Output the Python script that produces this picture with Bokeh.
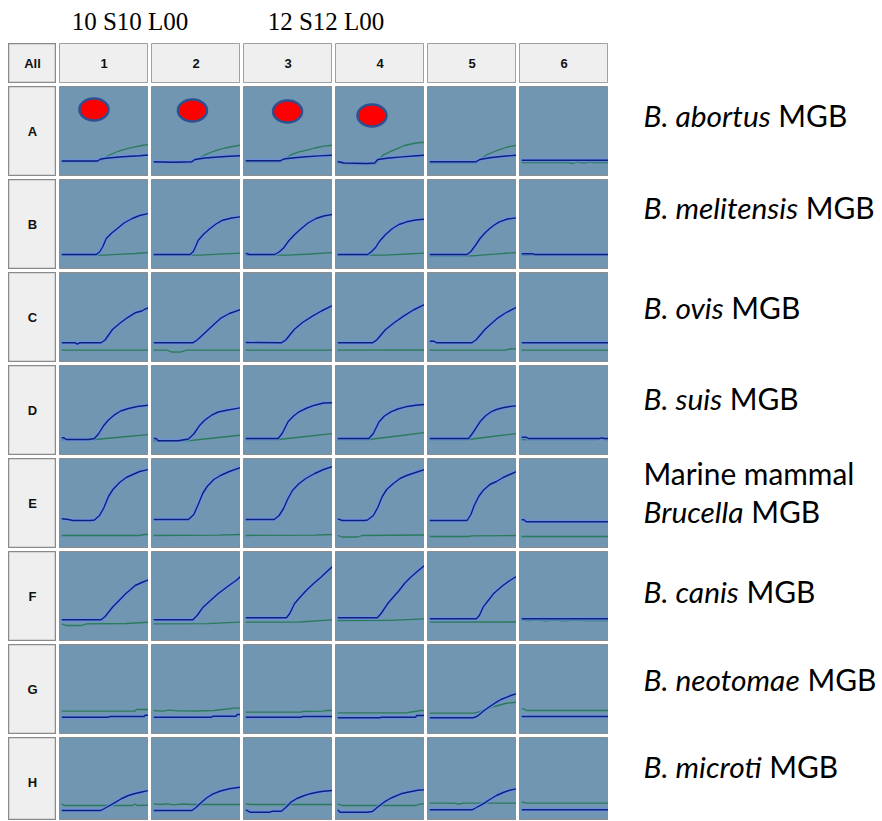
import os
import subprocess

from bokeh.plotting import figure
from bokeh.models import GridPlot, Range1d, ColumnDataSource
from bokeh.core.properties import value
from bokeh.embed import file_html
from bokeh.resources import INLINE

# ---------------------------------------------------------------- data
PLATE_ROWS = ["A", "B", "C", "D", "E", "F", "G", "H"]
PLATE_COLS = ["1", "2", "3", "4", "5", "6"]
CORNER_LABEL = "All"
RUN_LABELS = ["10 S10 L00", "12 S12 L00"]

SPECIES_PREFIX = ["", "", "", "", "Marine mammal", "", "", ""]
SPECIES_ITALIC = ["B. abortus", "B. melitensis", "B. ovis", "B. suis",
                  "Brucella", "B. canis", "B. neotomae", "B. microti"]
SPECIES_SUFFIX = "MGB"

# amplification curves: (cycle, fluorescence) per well, columns 1..6
BLUE_A = [
    [(1, 15.5), (17, 15.5), (18.5, 17.5), (22, 18.5), (27, 19.5), (32, 20.3), (36, 20.8), (40, 21.5)],
    [(1, 14.7), (10, 14.3), (18, 14.7), (19.5, 17), (24, 18.5), (30, 19.5), (35, 20.2), (40, 20.7)],
    [(1, 15.7), (16.4, 15.7), (18, 17.5), (23, 18.8), (28, 19.8), (34, 20.6), (40, 21.3)],
    [(1, 15), (4, 13.5), (14, 13), (17.6, 13.5), (19, 17), (24, 18.5), (30, 19.6), (35, 20.5), (40, 21.3)],
    [(1, 14.7), (21.7, 14.7), (23.5, 17), (28, 18.7), (33, 20), (40, 21.3)],
    [(1, 16.3), (40, 16.3)],
]
GREEN_A = [
    [(1, 14.7), (17, 14.7), (19, 16.5), (22, 21), (25, 24), (28, 26.3), (31, 28.2), (34, 29.7), (37, 31), (40, 32)],
    [(1, 14), (18, 14), (20, 16.5), (23.6, 21.3), (26.5, 24), (29.6, 26.3), (33, 28.5), (36.5, 30), (40, 31.3)],
    [(1, 14.7), (16.4, 14.7), (18.5, 17), (21, 21.3), (24.5, 24.3), (28.6, 26.3), (32, 28.5), (36, 30.3), (40, 31.3)],
    [(1, 14), (4, 12.5), (14, 12.3), (17.6, 12.5), (19.5, 16.5), (21.4, 21.3), (24.5, 24.8), (27.5, 27.7), (31, 31), (35, 33), (38, 34), (40, 34)],
    [(1, 13.7), (21.7, 13.7), (23.8, 17), (26.2, 21.3), (29, 24), (32, 26.7), (36, 29.5), (40, 31.3)],
    [(1, 14), (22, 14), (24, 13), (26, 14.5), (29, 13.3), (31, 14.3), (34, 14), (40, 14)],
]
BLUE_B = [
    [(1, 15), (16.5, 15), (18, 17.5), (19.5, 23), (21, 31), (23.5, 36.5), (26, 41), (29, 46.5), (32.7, 51), (36, 54), (40, 56)],
    [(1, 15), (17.3, 15), (18.8, 18), (20, 24), (21, 29.3), (23.5, 35.5), (26.3, 41), (29, 45.5), (32, 49.3), (36, 51.5), (40, 52.7)],
    [(1, 16.3), (2.5, 15), (14, 15), (16, 17.5), (18, 21.5), (20, 27.7), (23, 35), (26, 41), (29, 46.5), (32.6, 51), (36, 53.5), (40, 55)],
    [(1, 15), (14.4, 15), (16, 17.5), (18, 22), (19.6, 27.7), (22.5, 35), (25.6, 41), (28.5, 45), (32, 47.7), (36, 49.5), (40, 50.3)],
    [(1, 15), (17.8, 15), (19.5, 18), (21.5, 24), (23.6, 31), (26, 37), (28, 41), (30, 44.5), (32.3, 47.7), (36, 50.5), (40, 51.7)],
    [(1, 15.7), (6, 15.7), (7, 15), (40, 15)],
]
GREEN_B = [
    [(1, 14.3), (20, 14.3), (28, 15.3), (34, 16), (40, 17)],
    [(1, 14.3), (22, 14.3), (30, 15.3), (40, 16.5)],
    [(1, 14.3), (20, 14.3), (30, 15.5), (40, 17)],
    [(1, 14.3), (22, 14.3), (32, 15.5), (40, 16.5)],
    [(1, 13.7), (20, 13.7), (30, 15.3), (40, 17)],
    [(1, 14.3), (40, 14.3)],
]
BLUE_C = [
    [(1, 19.7), (7, 19.7), (8, 18.3), (9, 19.7), (18.7, 19.7), (20.5, 22.5), (23.8, 33), (27, 39), (30.4, 44.7), (34, 49.7), (37, 51.5), (38.5, 53.5), (40, 54.7)],
    [(1, 19.7), (18.6, 19.7), (20.5, 22.5), (22.5, 26.5), (25.6, 33), (28.5, 39), (31.4, 44.7), (35, 49), (40, 53)],
    [(1, 20), (17, 19.7), (19, 22.5), (22.8, 33), (26.5, 40), (31, 46.3), (35, 51.5), (40, 57)],
    [(1, 19.7), (16.6, 19.7), (18.5, 22.5), (22.5, 33), (26.5, 40), (30.6, 46.3), (35, 52.5), (40, 58)],
    [(1, 21.3), (3, 21.3), (4, 19.7), (20, 19.7), (22, 23), (25.8, 33), (29, 39.5), (31.7, 44.7), (35, 49.5), (40, 55.3)],
    [(1, 19.7), (40, 19.7)],
]
GREEN_C = [
    [(1, 12.3), (40, 12.3)],
    [(1, 12.3), (7, 12.3), (9, 10.5), (13, 10.3), (15, 11.8), (16, 12.3), (40, 12.3)],
    [(1, 12.3), (40, 12.3)],
    [(1, 12.3), (40, 12.5)],
    [(1, 12.3), (35, 12.3), (37, 13.5), (40, 13.7)],
    [(1, 12.3), (40, 12.3)],
]
BLUE_D = [
    [(1, 17.7), (2, 17.7), (3, 16), (13, 16), (15.7, 17), (17.5, 21.5), (20, 30.3), (22, 35.5), (24.5, 40.3), (27.5, 44.5), (31, 47), (35, 49), (40, 50.3)],
    [(1, 17), (2, 17), (3, 14.7), (12, 14.7), (16.6, 16.5), (19, 21.5), (21.7, 30.3), (24, 35.5), (27, 40.3), (30, 43.5), (33.8, 45.3), (40, 47.7)],
    [(1, 17), (15.6, 17), (17.5, 22.5), (20, 33.7), (22.5, 39.5), (25, 43.7), (28.5, 47.5), (32, 50.3), (36, 52.5), (40, 52.7)],
    [(1, 17), (15, 17), (17, 22), (19.6, 33.7), (22, 39.5), (24.9, 43.7), (28, 46.5), (31.5, 48.7), (36, 50.3), (40, 51)],
    [(1, 17), (18.5, 17), (20.5, 23), (23.6, 33.7), (26, 39.5), (28.6, 43.7), (31, 46), (33.9, 47.7), (37, 49), (40, 49.7)],
    [(1, 18.3), (3, 18.3), (4, 17), (36, 17), (37, 17.7), (38, 17), (40, 17)],
]
GREEN_D = [
    [(1, 16), (16, 16), (28, 18.5), (40, 21)],
    [(1, 14.7), (16, 14.7), (28, 17.5), (40, 20.3)],
    [(1, 16), (15.6, 16), (28, 19), (40, 22)],
    [(1, 16), (15, 16), (28, 19.5), (40, 23)],
    [(1, 16), (18.5, 16), (29, 19), (40, 22)],
    [(1, 16), (35, 16), (36.5, 17), (38, 16), (40, 16)],
]
BLUE_E = [
    [(1, 29.7), (4, 29), (6, 28), (14, 28), (15.7, 28.5), (18, 33), (20, 41), (22, 52), (24, 59), (27, 66), (30, 71), (33, 74), (36, 77), (40, 79)],
    [(1, 29), (16.6, 29), (19, 34), (21, 44), (23, 55), (25, 62), (28, 69), (31, 73), (35, 77), (40, 81)],
    [(1, 29), (13.8, 29), (16, 33), (18, 40), (20, 50), (22, 58), (25, 65), (28, 70), (32, 75), (36, 79), (40, 82)],
    [(1, 29.7), (3, 28), (13, 28), (14.4, 28.5), (17, 33), (19, 41), (21, 52), (23, 59), (26, 65), (29, 70), (32, 73), (36, 76), (40, 79)],
    [(1, 28), (17.8, 28), (19.5, 34), (21, 43), (23, 52), (25, 58), (28, 64), (31, 67), (34, 71), (37, 74), (40, 77)],
    [(1, 28.7), (2, 28.7), (3, 26.7), (40, 26.7)],
]
GREEN_E = [
    [(1, 13), (36, 13), (38, 14), (40, 14)],
    [(1, 13), (30, 13.3), (40, 14)],
    [(1, 13), (32, 13.3), (40, 14)],
    [(1, 13), (3, 11.5), (10, 11.5), (12, 13), (40, 13.5)],
    [(1, 12), (18, 12), (20, 12.7), (40, 13)],
    [(1, 12), (40, 12)],
]
BLUE_F = [
    [(1, 21.7), (18.7, 21.7), (20.5, 25), (23.8, 34.3), (27, 41.5), (29.7, 47.7), (32, 52), (34, 56), (37, 59), (40, 61.7)],
    [(1, 21.7), (18.6, 21.7), (20.5, 26), (23.2, 34.3), (26.5, 41), (29.9, 47.7), (33, 53), (35.9, 57.7), (38, 61), (40, 65)],
    [(1, 23.7), (19.3, 23.7), (20.8, 28), (22.9, 37.7), (25.5, 44.5), (28.2, 51), (31.5, 58), (34.8, 64.3), (37.5, 70), (40, 75)],
    [(1, 23.7), (18.8, 23.7), (20.5, 28), (23.4, 37.7), (26, 44.5), (28.6, 51), (31, 58), (33.8, 64.3), (37, 70.5), (40, 76)],
    [(1, 22.7), (22, 22.7), (23.3, 26), (25, 34.3), (27.3, 41), (29.6, 47.7), (31.8, 52), (33.9, 56), (37, 61), (40, 65)],
    [(1, 22.7), (40, 22.7)],
]
GREEN_F = [
    [(1, 17.7), (3, 16), (10, 16), (12, 17.7), (30, 18), (40, 19.3)],
    [(1, 17.7), (25, 17.8), (40, 19.3)],
    [(1, 19.3), (25, 19.5), (40, 21.7)],
    [(1, 21), (25, 21.2), (40, 22.7)],
    [(1, 19.3), (40, 19.5)],
    [(1, 21.7), (4, 21), (8, 21.7), (12, 20.7), (16, 21.3), (20, 20.7), (25, 21.3), (30, 21), (40, 21)],
]
BLUE_G = [
    [(1, 17.3), (22, 17.3), (22.5, 18), (38, 18), (38.5, 19.3), (40, 19.3)],
    [(1, 17.3), (27, 17.3), (27.5, 18.3), (38, 18.3), (38.5, 20), (40, 20)],
    [(1, 17.3), (26, 17.3), (26.5, 18), (40, 18)],
    [(1, 16.7), (20, 16.7), (20.5, 17.3), (36, 17.3), (36.5, 19), (40, 19)],
    [(1, 16.7), (20.5, 16.7), (22.5, 18.5), (25.5, 24), (28, 28), (31, 32.3), (33, 35), (35.7, 37.3), (38, 39.5), (40, 40.7)],
    [(1, 18), (40, 18)],
]
GREEN_G = [
    [(1, 23.3), (34, 23.3), (34.5, 25), (40, 25)],
    [(1, 24), (5, 23.3), (8, 24.3), (12, 23.7), (20, 23.5), (28, 24), (34, 25.5), (37, 26.3), (40, 26.3)],
    [(1, 22.3), (26, 22.3), (26.5, 23), (36, 23.3), (37, 24), (40, 24)],
    [(1, 21.7), (32, 21.7), (34, 22.5), (37, 23.5), (38, 24), (40, 24)],
    [(1, 21.3), (21, 21.3), (23, 22.5), (25, 24.5), (30, 28), (35, 31), (40, 32.3)],
    [(1, 25.7), (2, 25.7), (3, 24), (40, 24)],
]
BLUE_H = [
    [(1, 17), (18.6, 17), (21, 20), (25.3, 25.3), (28, 29), (31, 32), (34, 34), (37, 35.5), (40, 37)],
    [(1, 17), (18.2, 17), (20, 20), (22.5, 25.3), (25, 30), (27.7, 33.7), (31, 36.5), (35, 38.8), (40, 40.3)],
    [(1, 17.7), (3, 15.3), (12, 15.3), (13, 16.3), (17, 16.3), (19, 20), (21.3, 25.3), (24, 29), (27.4, 32), (30, 33.8), (33, 35.3), (36, 36.3), (40, 37)],
    [(1, 17.7), (2, 15.3), (14, 15.3), (16.6, 16), (19, 20.5), (21.8, 25.3), (25, 29.5), (29.4, 33.7), (33, 35.5), (37, 37.3), (40, 37.7)],
    [(1, 17.7), (20, 17.7), (22, 20), (25, 23.7), (28, 28), (31, 32), (34, 35), (37, 37.3), (40, 38.7)],
    [(1, 17.7), (40, 17.7)],
]
GREEN_H = [
    [(1, 23.7), (2, 22), (33, 22), (34, 23.5), (35, 22), (40, 22.3)],
    [(1, 23.7), (4, 23), (7, 23.7), (10, 22.7), (14, 23.5), (18, 23), (40, 23)],
    [(1, 23.7), (3, 23), (40, 23)],
    [(1, 23.7), (3, 22), (36, 22), (38, 23.3), (40, 23.7)],
    [(1, 24.3), (12, 24.3), (14, 23.5), (16, 24.3), (40, 24.3)],
    [(1, 25.7), (3, 24.3), (40, 24.3)],
]

# red markers on wells A1..A4
OVAL_COLUMN = [1, 2, 3, 4]
OVAL_CYCLE = [15.5, 18.4, 19.8, 16.4]
OVAL_LEVEL = [67, 66, 65, 61]

BLUE_ROWS = [BLUE_A, BLUE_B, BLUE_C, BLUE_D, BLUE_E, BLUE_F, BLUE_G, BLUE_H]
GREEN_ROWS = [GREEN_A, GREEN_B, GREEN_C, GREEN_D, GREEN_E, GREEN_F, GREEN_G, GREEN_H]

# ---------------------------------------------------------------- layout / style
PAGE_PAD = 8
GAP = 3
TITLE_H = 32
HEAD_H = 40
LABEL_W = 48
CELL_W = 89
CELL_H = 90
LAST_ROW_H = 83          # bottom row is cut off by the page edge
SPECIES_W = 270
TOTAL_W = LABEL_W + 6 * CELL_W + 7 * GAP + SPECIES_W
PLATE_H = (len(PLATE_ROWS) - 1) * (CELL_H + GAP) + LAST_ROW_H

CELL_BG = "#7096b2"
HEAD_BG = "#efefef"
BLUE_HALO = "#6a8ff0"
BLUE_CORE = "#0f1f7a"
GREEN = "#2a7a5c"

SPECIES_X = 32
SPECIES_MID = [28, 27, 34, 32, 52, 39, 34, 28]   # visual centre below row top
PREFIX_MID = 14
RUN_LABEL_X = [121.5, 317.5]
RUN_LABEL_Y = 12.5


def font_file(family, style):
    try:
        out = subprocess.run(["fc-match", "-f", "%{family}|%{file}", f"{family}:style={style}"],
                             capture_output=True, text=True, timeout=10).stdout.strip()
        fam, path = out.split("|", 1)
        if family.lower() in fam.lower() and os.path.exists(path):
            return path
    except Exception:
        pass
    return None


def measure(text, family, style, size):
    try:
        from PIL import ImageFont
        path = font_file(family, style)
        if path:
            return ImageFont.truetype(path, size).getlength(text)
    except Exception:
        pass
    return 0.5 * size * len(text)


SP_FONT = "Lato"
w26 = measure(SPECIES_ITALIC[0], SP_FONT, "Italic", 26) + measure(" " + SPECIES_SUFFIX, SP_FONT, "Regular", 26)
SP_SIZE = max(22.0, min(30.0, round(26 * 204 / w26, 1)))
for it in SPECIES_ITALIC:
    wt = measure(it, SP_FONT, "Italic", SP_SIZE) + measure(" " + SPECIES_SUFFIX, SP_FONT, "Regular", SP_SIZE)
    if SPECIES_X + wt > SPECIES_W - 3:
        SP_SIZE = round(SP_SIZE * (SPECIES_W - 3 - SPECIES_X) / wt, 1)


def bare(w, h, xr, yr, bg, outline=None, outline_w=1):
    f = figure(width=w, height=h, x_range=xr, y_range=yr, toolbar_location=None,
               output_backend="svg", min_border=0, x_axis_location=None, y_axis_location=None)
    for r in list(f.center):
        r.visible = False
    f.background_fill_color = bg
    f.border_fill_color = bg
    f.outline_line_color = outline
    f.outline_line_width = outline_w
    return f


children = []

# title row
title = bare(TOTAL_W, TITLE_H, Range1d(0, TOTAL_W), Range1d(TITLE_H, 0), "#ffffff")
title.text(x=RUN_LABEL_X, y=[RUN_LABEL_Y] * 2, text=RUN_LABELS, text_font=value("Liberation Serif"),
           text_font_size="25px", text_align="center", text_baseline="middle", text_color="#000000")
children.append((title, 0, 0, 1, 8))

# header row
corner = bare(LABEL_W, HEAD_H, Range1d(0, 1), Range1d(0, 1), HEAD_BG, "#8a8a8a", 1.5)
corner.text(x=[0.5], y=[0.5], text=[CORNER_LABEL], text_font=value("Liberation Sans"), text_font_style="bold",
            text_font_size="13px", text_align="center", text_baseline="middle", text_color="#111111")
children.append((corner, 1, 0))
for ci, lab in enumerate(PLATE_COLS):
    h = bare(CELL_W, HEAD_H, Range1d(0, 1), Range1d(0, 1), HEAD_BG, "#a0a0a0", 1)
    h.text(x=[0.5], y=[0.5], text=[lab], text_font=value("Liberation Sans"), text_font_style="bold",
           text_font_size="13px", text_align="center", text_baseline="middle", text_color="#111111")
    children.append((h, 1, ci + 1))

# species labels: one panel spanning all plate rows
sp = bare(SPECIES_W, PLATE_H, Range1d(0, SPECIES_W), Range1d(PLATE_H, 0), "#ffffff")
w_sp = measure(" ", SP_FONT, "Regular", SP_SIZE)
it_x, it_y, it_t, rg_x, rg_y, rg_t = [], [], [], [], [], []
for ri, it in enumerate(SPECIES_ITALIC):
    top = ri * (CELL_H + GAP)
    it_x.append(SPECIES_X)
    it_y.append(top + SPECIES_MID[ri])
    it_t.append(it)
    rg_x.append(SPECIES_X + measure(it, SP_FONT, "Italic", SP_SIZE) + w_sp)
    rg_y.append(top + SPECIES_MID[ri])
    rg_t.append(SPECIES_SUFFIX)
    if SPECIES_PREFIX[ri]:
        rg_x.append(SPECIES_X)
        rg_y.append(top + PREFIX_MID)
        rg_t.append(SPECIES_PREFIX[ri])
sp.text(x=it_x, y=it_y, text=it_t, text_font=value(SP_FONT), text_font_style="italic",
        text_font_size=f"{SP_SIZE}px", text_align="left", text_baseline="middle", text_color="#000000")
sp.text(x=rg_x, y=rg_y, text=rg_t, text_font=value(SP_FONT),
        text_font_size=f"{SP_SIZE}px", text_align="left", text_baseline="middle", text_color="#000000")
children.append((sp, 2, 7, len(PLATE_ROWS), 1))

# plate rows
for ri, rlab in enumerate(PLATE_ROWS):
    rh = LAST_ROW_H if ri == len(PLATE_ROWS) - 1 else CELL_H
    lab = bare(LABEL_W, rh, Range1d(0, 1), Range1d(0, 1), HEAD_BG, "#8a8a8a", 1.5)
    lab.text(x=[0.5], y=[1 - (CELL_H / 2) / rh], text=[rlab],
             text_font=value("Liberation Sans"), text_font_style="bold", text_font_size="13px",
             text_align="center", text_baseline="middle", text_color="#111111")
    children.append((lab, ri + 2, 0))

    for ci in range(len(PLATE_COLS)):
        yr = Range1d(CELL_H - rh, CELL_H)
        c = bare(CELL_W, rh, Range1d(0, 40), yr, CELL_BG, "#8c8c8c", 1)
        g = GREEN_ROWS[ri][ci]
        gsrc = ColumnDataSource(dict(cycle=[p[0] for p in g], rn=[p[1] for p in g]))
        c.line("cycle", "rn", source=gsrc, line_color=GREEN, line_width=1.3)
        b = BLUE_ROWS[ri][ci]
        bsrc = ColumnDataSource(dict(cycle=[p[0] for p in b], rn=[p[1] for p in b]))
        c.line("cycle", "rn", source=bsrc, line_color=BLUE_HALO, line_width=4, line_alpha=0.7)
        c.line("cycle", "rn", source=bsrc, line_color=BLUE_CORE, line_width=1.4)
        if ri == 0 and (ci + 1) in OVAL_COLUMN:
            k = OVAL_COLUMN.index(ci + 1)
            c.ellipse(x=[OVAL_CYCLE[k]], y=[OVAL_LEVEL[k]], width=29, height=22,
                      width_units="screen", height_units="screen",
                      fill_color="#ff0000", line_color="#2f4f8f", line_width=2.5)
        children.append((c, ri + 2, ci + 1))

grid = GridPlot(children=children, spacing=GAP, toolbar_location=None,
                margin=(PAGE_PAD, 0, 0, PAGE_PAD))

open("out.html", "w").write(file_html(grid, INLINE))
